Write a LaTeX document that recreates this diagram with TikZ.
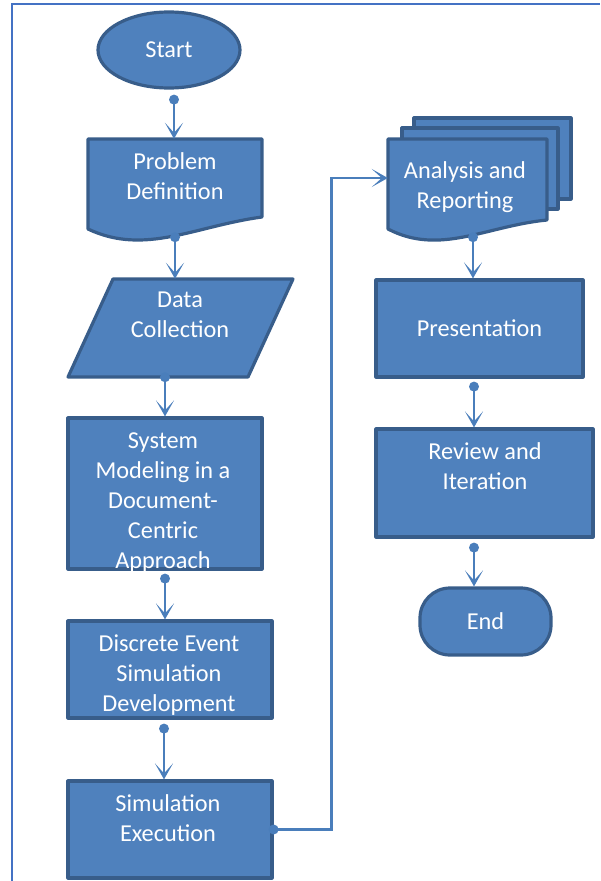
\documentclass[tikz,border=0pt]{standalone}
\usepackage{fontspec}
\setmainfont{Carlito}
\usetikzlibrary{shapes.geometric,arrows.meta,decorations.markings}
\definecolor{boxfill}{HTML}{4F81BD}
\definecolor{boxline}{HTML}{385D8A}
\definecolor{linkc}{HTML}{4A7EBB}
\definecolor{framec}{HTML}{4472C4}

\begin{document}
\begin{tikzpicture}[x=1pt,y=-1pt,
  shapestyle/.style={fill=boxfill, draw=boxline, line width=3.2pt, line join=round},
  box/.style={shapestyle, rectangle, inner sep=0pt, text=white, font=\fontsize{24.3}{30}\selectfont},
  ghost/.style={rectangle, inner sep=0pt},
  % multi-line labels: the base anchor sits on the last line's baseline
  txt/.style={text=white, font=\fontsize{24.3}{30}\selectfont, align=center, anchor=base, inner sep=0pt},
  flow/.style={draw=linkc, line width=2.4pt, -{Stealth[length=16pt,width=18pt,inset=10pt]},
    postaction={decorate, decoration={markings,
      mark=at position 0 with {\fill[linkc] (0,0) circle (5pt);}}}},
]
\useasboundingbox (0,0) rectangle (600,881);

% page frame
\draw[framec, line width=2.5pt] (12,881) -- (12,4) -- (600,4);

% terminal: start
\node[box, ellipse, minimum width=142pt, minimum height=76pt] (start) at (169,50) {Start};

% document: problem definition
\draw[shapestyle] (88,139) -- (262,139) -- (262,217)
  .. controls (195,226) and (145,256) .. (88,229) -- cycle;
\node[ghost, minimum width=174pt, minimum height=98pt] (pd) at (175,188) {};
\node[txt] (pd-t) at (175,199) {Problem\\Definition};

% data: data collection
\draw[shapestyle] (113,279) -- (293,279) -- (248,377) -- (68,377) -- cycle;
\node[ghost, minimum width=225pt, minimum height=98pt] (dc) at (180.5,328) {};
\node[txt] (dc-t) at (180,337) {Data\\Collection};

% process boxes, left column
\node[box, minimum width=194pt, minimum height=151pt] (sm) at (165,493.5) {};
\node[txt] (sm-t) at (163,568) {System\\Modeling in a\\Document-\\Centric\\Approach};

\node[box, minimum width=204pt, minimum height=97pt] (de) at (170,669.5) {};
\node[txt] (de-t) at (169,711) {Discrete Event\\Simulation\\Development};

\node[box, minimum width=204pt, minimum height=97pt] (se) at (170,829.5) {};
\node[txt] (se-t) at (168,841) {Simulation\\Execution};

% multi-document: analysis and reporting
\draw[shapestyle] (414,118) rectangle (571,199);
\draw[shapestyle] (402,128) rectangle (558,209);
\draw[shapestyle] (388,139) -- (547,139) -- (547,220)
  .. controls (486,226) and (440,256) .. (388,229) -- cycle;
\node[ghost, minimum width=159pt, minimum height=98pt] (ar) at (467.5,188) {};
\node[txt] (ar-t) at (465,208) {Analysis and\\Reporting};

% process boxes, right column
\node[box, minimum width=207pt, minimum height=97pt] (pr) at (479.5,328.5) {Presentation};

\node[box, minimum width=217pt, minimum height=108pt] (rv) at (484.5,483) {};
\node[txt] (rv-t) at (485,489) {Review and\\Iteration};

% terminal: end
\node[box, rounded corners=30pt, minimum width=131pt, minimum height=67pt] (end) at (485.5,621.5) {End};

% connector start points
\coordinate (d1) at ([xshift=5pt,yshift=-10pt]start.south);
\coordinate (d2) at (pd.south);
\coordinate (d3) at ([xshift=-15.5pt]dc.south);
\coordinate (d4) at ([yshift=-8pt]sm.south);
\coordinate (d5) at ([xshift=-6pt,yshift=-9pt]de.south);
\coordinate (d6) at (se.east);
\coordinate (d7) at ([xshift=5.5pt]ar.south);
\coordinate (d8) at ([xshift=-5.5pt,yshift=-8pt]pr.south);
\coordinate (d9) at ([xshift=-10.5pt,yshift=-9pt]rv.south);

% connectors
\draw[flow] (d1) -- (d1 |- pd.north);
\draw[flow] (d2) -- (d2 |- dc.north);
\draw[flow] (d3) -- (d3 |- sm.north);
\draw[flow] (d4) -- (d4 |- de.north);
\draw[flow] (d5) -- (d5 |- se.north);
\draw[flow] (d6) -- ++(58,0) |- ([yshift=10pt]ar.west);
\draw[flow] (d7) -- (d7 |- pr.north);
\draw[flow] (d8) -- (d8 |- rv.north);
\draw[flow] (d9) -- (d9 |- end.north);
\end{tikzpicture}
\end{document}
